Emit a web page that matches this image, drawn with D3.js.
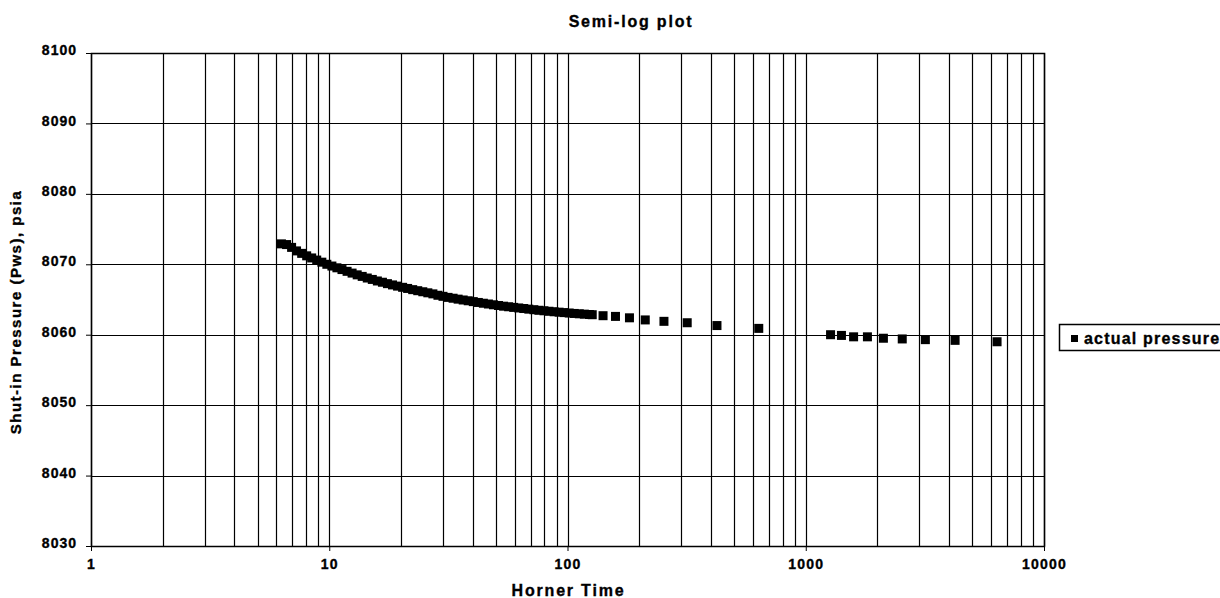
<!DOCTYPE html>
<html>
<head>
<meta charset="utf-8">
<script src="https://cdn.jsdelivr.net/npm/d3@7"></script>
<style>
  html, body { margin: 0; padding: 0; background: #fff; overflow: hidden; }
  svg { display: block; font-family: Arial, "Liberation Sans", sans-serif; }
</style>
</head>
<body>
<svg id="chart" width="1220" height="598"></svg>
<script>
// ---- data ----
const chartTitle = "Semi-log plot";
const xAxisTitle = "Horner Time";
const yAxisTitle = "Shut-in Pressure (Pws), psia";
const seriesName = "actual pressure";

const xTickValues = [1, 10, 100, 1000, 10000];
const xTickLabels = ["1", "10", "100", "1000", "10000"];
const yTickValues = [8030, 8040, 8050, 8060, 8070, 8080, 8090, 8100];

// Horner time values (dense early part + sparse late part)
const hornerTime = [
  6.30, 6.62, 6.95, 7.29, 7.66, 8.04, 8.44, 8.86, 9.31, 9.77,
  10.26, 10.77, 11.31, 11.88, 12.47, 13.10, 13.75, 14.44, 15.16, 15.92,
  16.72, 17.55, 18.43, 19.35, 20.32, 21.33, 22.40, 23.52, 24.70, 25.93,
  27.23, 28.59, 30.02, 31.52, 33.10, 34.75, 36.49, 38.31, 40.23, 42.24,
  44.35, 46.57, 48.90, 51.34, 53.91, 56.61, 59.44, 62.41, 65.53, 68.81,
  72.25, 75.86, 79.65, 83.64, 87.82, 92.21, 96.82, 101.66, 106.74, 112.08,
  117.69, 123.57, 127.0,
  141, 159, 182, 212, 254, 318, 424, 635,
  1271, 1412, 1588, 1815, 2118, 2541, 3177, 4235, 6353
];
// Shut-in pressure values, psia
const pressure = [
  8072.9, 8072.8, 8072.4, 8071.9, 8071.55, 8071.2, 8070.9, 8070.6, 8070.3, 8070.0,
  8069.75, 8069.5, 8069.25, 8069.0, 8068.75, 8068.5, 8068.28, 8068.05, 8067.85, 8067.63,
  8067.45, 8067.25, 8067.07, 8066.9, 8066.73, 8066.57, 8066.4, 8066.25, 8066.1, 8065.95,
  8065.8, 8065.6, 8065.45, 8065.3, 8065.18, 8065.05, 8064.93, 8064.82, 8064.7, 8064.58,
  8064.47, 8064.36, 8064.25, 8064.15, 8064.05, 8063.97, 8063.88, 8063.8, 8063.72, 8063.63,
  8063.55, 8063.47, 8063.4, 8063.33, 8063.26, 8063.2, 8063.14, 8063.08, 8063.02, 8062.97,
  8062.92, 8062.87, 8062.84,
  8062.7, 8062.6, 8062.4, 8062.1, 8061.9, 8061.7, 8061.3, 8060.9,
  8060.0, 8059.9, 8059.7, 8059.7, 8059.5, 8059.4, 8059.3, 8059.2, 8059.0
];

// ---- layout ----
const plot = { left: 91, right: 1044, top: 53, bottom: 546 };
const svg = d3.select("#chart");
const FONT = "Arial, 'Liberation Sans', sans-serif";

const x = d3.scaleLog().domain([1, 10000]).range([plot.left, plot.right]);
const y = d3.scaleLinear().domain([8030, 8100]).range([plot.bottom, plot.top]);

function boldText(sel) {
  return sel.attr("fill", "#000").attr("font-weight", "bold").attr("font-family", FONT)
    .attr("stroke", "#000").attr("stroke-width", 0.35);
}

// vertical grid lines (1..9 per decade)
const xGrid = x.ticks();
svg.append("g").selectAll("line").data(xGrid).join("line")
  .attr("x1", d => Math.round(x(d)) + 0.5).attr("x2", d => Math.round(x(d)) + 0.5)
  .attr("y1", plot.top).attr("y2", plot.bottom)
  .attr("stroke", "#000").attr("stroke-width", 1.2);

// horizontal grid lines
svg.append("g").selectAll("line").data(yTickValues).join("line")
  .attr("x1", plot.left).attr("x2", plot.right)
  .attr("y1", d => Math.round(y(d)) + 0.5).attr("y2", d => Math.round(y(d)) + 0.5)
  .attr("stroke", "#000").attr("stroke-width", 1.2);

// plot border
svg.append("rect")
  .attr("x", plot.left + 0.5).attr("y", plot.top + 0.5)
  .attr("width", plot.right - plot.left).attr("height", plot.bottom - plot.top)
  .attr("fill", "none").attr("stroke", "#000").attr("stroke-width", 1.5);

// y axis
const yAxis = d3.axisLeft(y).tickValues(yTickValues).tickSize(5).tickPadding(9)
  .tickFormat(d3.format("d"));
const gy = svg.append("g").attr("transform", `translate(${plot.left},0)`).call(yAxis);
gy.select(".domain").remove();
gy.selectAll(".tick line").attr("stroke", "#000");
boldText(gy.selectAll(".tick text")).attr("font-size", 14).attr("letter-spacing", 1)
  .attr("dy", "0.12em");

// x axis
const xAxis = d3.axisBottom(x).tickValues(xTickValues).tickSize(5).tickPadding(8)
  .tickFormat((d, i) => xTickLabels[i]);
const gx = svg.append("g").attr("transform", `translate(0,${plot.bottom})`).call(xAxis);
gx.select(".domain").remove();
gx.selectAll(".tick line").attr("stroke", "#000");
boldText(gx.selectAll(".tick text")).attr("font-size", 14).attr("letter-spacing", 1.2);

// data markers (squares)
const ms = 9;
svg.append("g").selectAll("rect").data(hornerTime.map((h, i) => [h, pressure[i]])).join("rect")
  .attr("x", d => x(d[0]) - ms / 2).attr("y", d => y(d[1]) - ms / 2)
  .attr("width", ms).attr("height", ms).attr("fill", "#000");

// titles
boldText(svg.append("text")).attr("x", 631).attr("y", 27).attr("text-anchor", "middle")
  .attr("font-size", 16).attr("letter-spacing", 1.8).text(chartTitle);
boldText(svg.append("text")).attr("x", (plot.left + plot.right) / 2 + 1).attr("y", 596)
  .attr("text-anchor", "middle")
  .attr("font-size", 16).attr("letter-spacing", 1.8).text(xAxisTitle);
boldText(svg.append("text")).attr("transform", `translate(21,312) rotate(-90)`)
  .attr("text-anchor", "middle")
  .attr("font-size", 15).attr("letter-spacing", 1.5).text(yAxisTitle);

// legend
const lg = svg.append("g").attr("transform", "translate(1059,324)");
lg.append("rect").attr("x", 0.5).attr("y", 0.5).attr("width", 200).attr("height", 26)
  .attr("fill", "#fff").attr("stroke", "#000").attr("stroke-width", 1.5);
lg.append("rect").attr("x", 12).attr("y", 11).attr("width", 7).attr("height", 7).attr("fill", "#000");
boldText(lg.append("text")).attr("x", 25).attr("y", 20).attr("font-size", 16)
  .attr("letter-spacing", 1.2).text(seriesName);
</script>
</body>
</html>
